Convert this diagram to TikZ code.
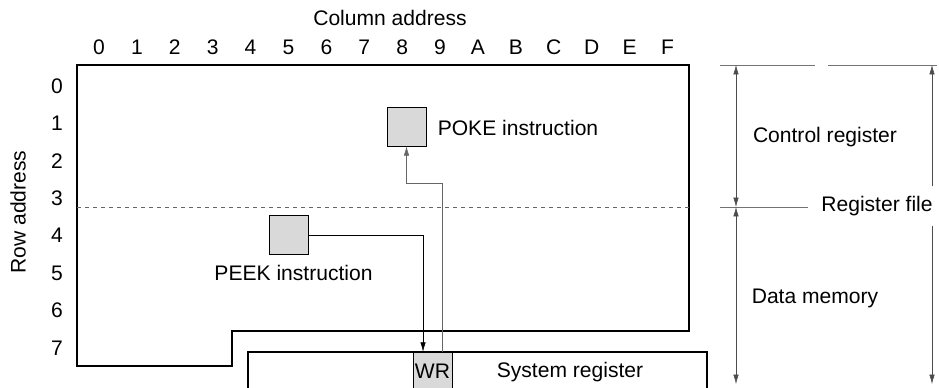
\documentclass[tikz,border=0pt]{standalone}
\usepackage{fontspec}
\setmainfont{Liberation Sans}
\usetikzlibrary{arrows.meta}

\begin{document}
\begin{tikzpicture}[x=0.75pt,y=-0.75pt,font=\fontsize{15.8}{18}\selectfont,
  cell/.style={draw,fill=black!15,minimum size=29.25pt,inner sep=0pt},
  wire/.style={-{Latex[length=7pt,width=4pt]}},
  dim/.style={black!70,{Latex[length=7pt,width=4pt]}-{Latex[length=7pt,width=4pt]}},
  tick/.style={black!55}]
  \useasboundingbox (0,0) rectangle (939,387);
  % register file
  \draw[line width=1.5pt] (77,65) -- (689,65) -- (689,331) -- (232,331) -- (232,366) -- (77,366) -- cycle;
  \draw[black!60,dashed] (77,207) -- (689,207);
  \node (coladdr) at (390,18) {Column address};
  \foreach \c [count=\i from 0] in {0,1,2,3,4,5,6,7,8,9,A,B,C,D,E,F}
    \node (col-\c) at (99+37.9*\i,47) {\c};
  \foreach \r in {0,...,7}
    \node (row-\r) at (57,86+37.4*\r) {\r};
  \node[rotate=90] (rowaddr) at (18,212) {Row address};
  \node[cell] (poke) at (406.5,126.5) {};
  \node (poketext) at (518,128) {POKE instruction};
  \node[cell] (peek) at (288.5,235) {};
  \node (peektext) at (293.5,273) {PEEK instruction};
  \node[cell,minimum height=28.5pt] (wr) at (432.5,371) {WR};
  \node[draw,line width=1.5pt,minimum width=344pt,minimum height=28.5pt,inner sep=0pt] (sysreg) at (477.5,371) {};
  \node (systext) at (570,372) {System register};
  \coordinate (kink) at (442,183);
  \draw[wire] (peek.east) -| ([xshift=-7.1pt]wr.north);
  \draw[wire,black!60] (wr.north -| kink) -- (kink) -| (poke.south);
  % address ranges
  \coordinate (ctl-top) at (736,65);
  \coordinate (ctl-mid) at (736,207);
  \coordinate (ctl-bot) at (736,384);
  \coordinate (rf-top) at (932,65);
  \coordinate (rf-bot) at (932,384);
  \draw[tick] (720,65) -- (815,65) (828,65) -- (937,65) (720,207) -- (808,207);
  \path[dim] (ctl-top) edge (ctl-mid) (ctl-mid) edge (ctl-bot);
  \node (ctltext) at (825,137) {Control register};
  \node (datatext) at (815,298) {Data memory};
  \node[outer sep=4pt] (rftext) at (877,206) {Register file};
  \draw[wire,black!70] (rftext.north -| rf-top) -- (rf-top);
  \draw[wire,black!70] (rftext.south -| rf-bot) -- (rf-bot);
\end{tikzpicture}
\end{document}
